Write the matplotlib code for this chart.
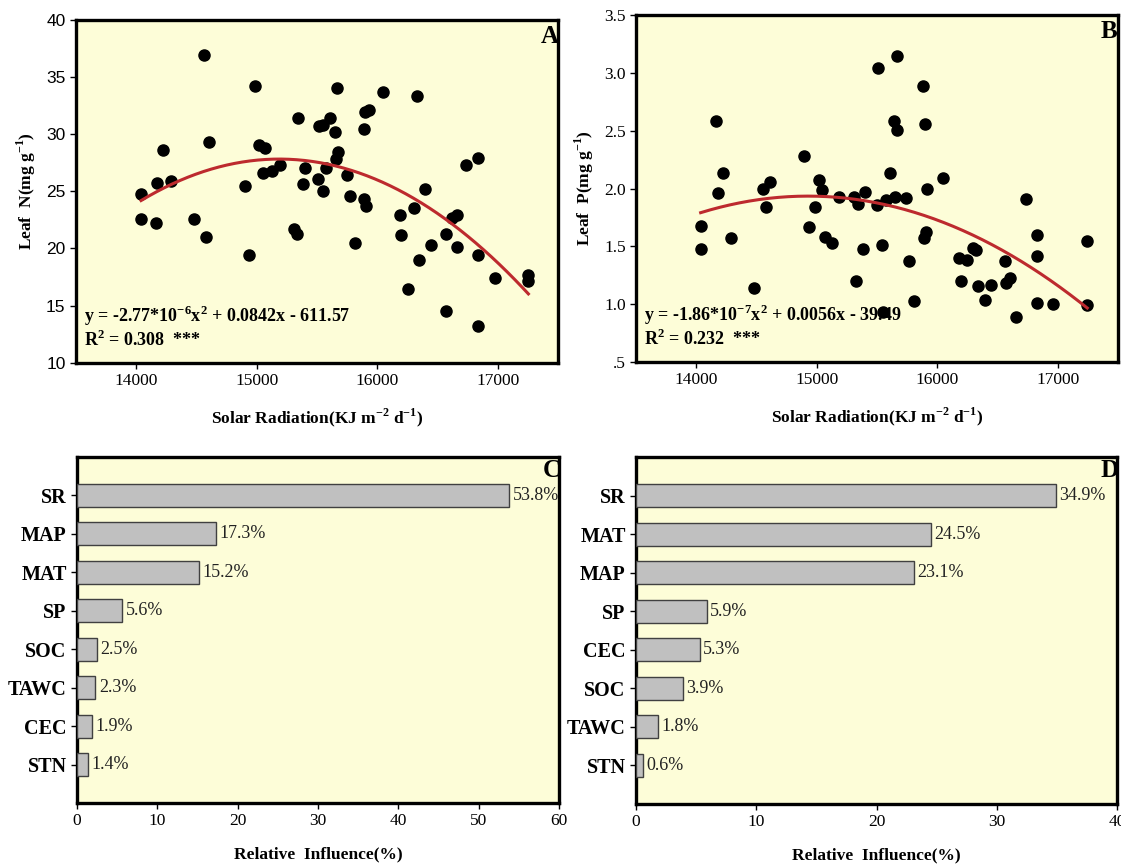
import numpy as np
import matplotlib
matplotlib.use("Agg")
import matplotlib.pyplot as plt

# Fuentes tipo Times para todo el gráfico
plt.rcParams["font.family"] = ["Liberation Serif", "DejaVu Serif"]
plt.rcParams["mathtext.fontset"] = "custom"
plt.rcParams["mathtext.rm"] = "Liberation Serif"
plt.rcParams["mathtext.bf"] = "Liberation Serif:bold"

# ---- Datos panel A: radiación solar vs N foliar ----
sr_a = [14040, 14040, 14164, 14176, 14224, 14290, 14478, 14558, 14582, 14606,
        14899, 14937, 14988, 15018, 15069, 15051, 15128, 15194, 15346, 15313,
        15334, 15382, 15403, 15504, 15516, 15549, 15549, 15609, 15573, 15648,
        15660, 15672, 15666, 15746, 15770, 15815, 15890, 15890, 15910, 15901,
        15928, 16048, 16188, 16200, 16254, 16307, 16331, 16349, 16397, 16448,
        16567, 16573, 16621, 16663, 16663, 16740, 16836, 16833, 16839, 16973,
        17254, 17254]
leaf_n = [24.8, 22.6, 22.2, 25.7, 28.6, 25.9, 22.6, 36.9, 21.0, 29.3,
          25.5, 19.4, 34.2, 29.0, 28.8, 26.6, 26.8, 27.3, 31.4, 21.7,
          21.3, 25.6, 27.0, 26.1, 30.7, 30.8, 25.0, 31.4, 27.0, 30.2,
          27.8, 28.4, 34.0, 26.4, 24.6, 20.5, 30.4, 24.3, 23.7, 31.9,
          32.1, 33.7, 22.9, 21.2, 16.5, 23.5, 33.3, 19.0, 25.2, 20.3,
          14.5, 21.3, 22.7, 22.9, 20.1, 27.3, 27.9, 19.4, 13.2, 17.4,
          17.7, 17.2]

# ---- Datos panel B: radiación solar vs P foliar ----
sr_b = [14036, 14042, 14161, 14176, 14223, 14289, 14477, 14554, 14578, 14608,
        14894, 14935, 14986, 15016, 15045, 15066, 15123, 15186, 15308, 15329,
        15340, 15382, 15400, 15498, 15510, 15543, 15546, 15570, 15605, 15641,
        15650, 15662, 15662, 15743, 15764, 15808, 15883, 15886, 15900, 15906,
        15918, 16044, 16181, 16193, 16250, 16300, 16324, 16336, 16392, 16443,
        16562, 16568, 16607, 16654, 16732, 16827, 16824, 16824, 16964, 17244,
        17244]
leaf_p = [1.68, 1.48, 2.58, 1.96, 2.13, 1.57, 1.14, 2.00, 1.84, 2.06,
          2.28, 1.67, 1.84, 2.07, 1.99, 1.58, 1.53, 1.93, 1.93, 1.20,
          1.87, 1.48, 1.97, 1.86, 3.04, 1.51, 0.93, 1.90, 2.13, 2.58,
          1.93, 2.51, 3.15, 1.92, 1.37, 1.03, 2.89, 1.57, 2.56, 1.62,
          2.00, 2.09, 1.40, 1.20, 1.38, 1.49, 1.47, 1.16, 1.04, 1.17,
          1.37, 1.18, 1.23, 0.89, 1.91, 1.60, 1.42, 1.01, 1.00, 1.55,
          0.99]

# ---- Datos panel C y D: influencia relativa ----
vars_c = ["SR", "MAP", "MAT", "SP", "SOC", "TAWC", "CEC", "STN"]
infl_c = [53.8, 17.3, 15.2, 5.6, 2.5, 2.3, 1.9, 1.4]
vars_d = ["SR", "MAT", "MAP", "SP", "CEC", "SOC", "TAWC", "STN"]
infl_d = [34.9, 24.5, 23.1, 5.9, 5.3, 3.9, 1.8, 0.6]

BG = "#fdfdd8"
RED = "#bd2a2e"

fig = plt.figure(figsize=(11.21, 8.64), dpi=100)
ax_a = fig.add_axes([0.0678, 0.5799, 0.430, 0.3975])
ax_b = fig.add_axes([0.5674, 0.5810, 0.430, 0.4016])
ax_c = fig.add_axes([0.0687, 0.0706, 0.430, 0.4005])
ax_d = fig.add_axes([0.5674, 0.0694, 0.429, 0.4017])


def style_axes(ax):
    """Fondo amarillo claro, marco grueso y marcas hacia afuera."""
    ax.set_facecolor(BG)
    for s in ax.spines.values():
        s.set_linewidth(2.4)
        s.set_color("black")
    ax.tick_params(direction="out", length=4, width=1, labelsize=12.5,
                   top=False, right=False)


def scatter_panel(ax, x, y, letter, ylabel, eq, r2):
    style_axes(ax)
    ax.scatter(x, y, s=64, color="black", zorder=3)
    # Ajuste cuadrático calculado a partir de los puntos
    coef = np.polyfit(x, y, 2)
    xs = np.linspace(min(x), max(x), 200)
    ax.plot(xs, np.polyval(coef, xs), color=RED, lw=2.2, zorder=4)
    ax.set_xlim(13500, 17500)
    ax.set_xticks([14000, 15000, 16000, 17000])
    ax.set_xlabel(r"Solar Radiation(KJ m$^{\mathbf{-2}}$ d$^{\mathbf{-1}}$)",
                  fontsize=12.5, fontweight="bold", labelpad=12)
    ax.set_ylabel(ylabel, fontsize=12.5, fontweight="bold", labelpad=6)
    ax.text(0.017, 0.137, eq, transform=ax.transAxes, fontsize=13,
            fontweight="bold", va="center", ha="left", zorder=5)
    ax.text(0.017, 0.066, r2, transform=ax.transAxes, fontsize=13,
            fontweight="bold", va="center", ha="left")
    ax.text(0.982, 0.952, letter, transform=ax.transAxes, fontsize=18,
            fontweight="bold", va="center", ha="center", clip_on=True)


def bar_panel(ax, names, vals, xmax, letter):
    style_axes(ax)
    pos = np.arange(len(names))
    ax.barh(pos, vals, height=0.6, color="#c0c0c0", edgecolor="#404040",
            linewidth=1, zorder=3)
    for p, v in zip(pos, vals):
        ax.text(v + xmax * 0.007, p, f"{v}%", fontsize=13, va="center",
                ha="left", color="#222222")
    ax.set_yticks(pos)
    ax.set_yticklabels(names, fontsize=14.5, fontweight="bold")
    ax.set_ylim(len(names), -1)
    ax.set_xlim(0, xmax)
    ax.set_xticks(np.arange(0, xmax + 1, 10))
    ax.set_xlabel("Relative  Influence(%)", fontsize=12.5, fontweight="bold",
                  labelpad=12)
    ax.text(0.985, 0.96, letter, transform=ax.transAxes, fontsize=18,
            fontweight="bold", va="center", ha="center", clip_on=True)


scatter_panel(ax_a, sr_a, leaf_n, "A", r"Leaf  N(mg g$^{\mathbf{-1}}$)",
              r"y = -2.77*10$^{\mathbf{-6}}$x$^{\mathbf{2}}$ + 0.0842x - 611.57",
              r"R$^{\mathbf{2}}$ = 0.308  ***")
ax_a.set_ylim(10, 40)
ax_a.set_yticks([10, 15, 20, 25, 30, 35, 40])
for t in ax_a.get_yticklabels():
    t.set_family(["Liberation Sans", "DejaVu Sans"])

scatter_panel(ax_b, sr_b, leaf_p, "B", r"Leaf  P(mg g$^{\mathbf{-1}}$)",
              r"y = -1.86*10$^{\mathbf{-7}}$x$^{\mathbf{2}}$ + 0.0056x - 39.49",
              r"R$^{\mathbf{2}}$ = 0.232  ***")
ax_b.set_ylim(0.5, 3.5)
ax_b.set_yticks([0.5, 1.0, 1.5, 2.0, 2.5, 3.0, 3.5])
ax_b.set_yticklabels([".5", "1.0", "1.5", "2.0", "2.5", "3.0", "3.5"])

bar_panel(ax_c, vars_c, infl_c, 60, "C")
bar_panel(ax_d, vars_d, infl_d, 40, "D")

fig.savefig("out.png", dpi=100)
